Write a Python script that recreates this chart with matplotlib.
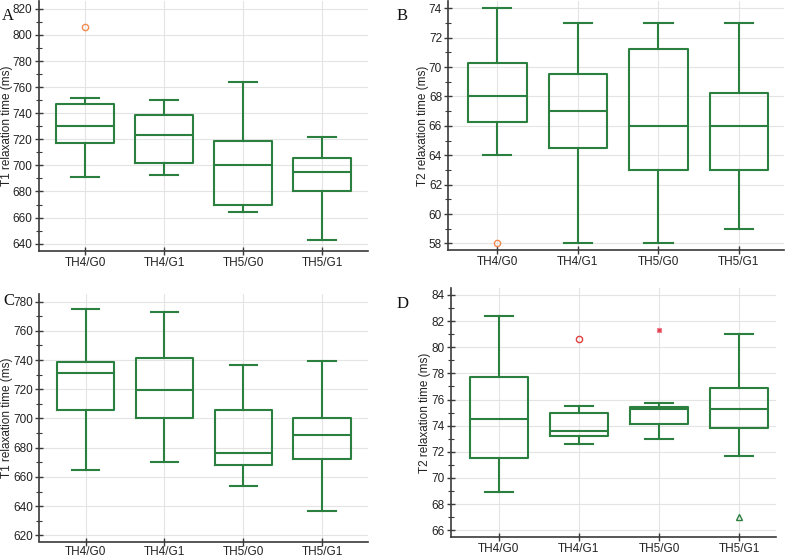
import matplotlib
matplotlib.use("Agg")
import matplotlib.pyplot as plt
from matplotlib.ticker import MultipleLocator

plt.rcParams['font.family'] = ['Liberation Sans', 'DejaVu Sans']

groups = ["TH4/G0", "TH4/G1", "TH5/G0", "TH5/G1"]

# each: whisker high, Q3, median, Q1, whisker low
a_whi = [752, 750, 764, 722]
a_q3 = [747, 739, 718.5, 706]
a_med = [730, 723, 700, 695]
a_q1 = [717, 702, 669.5, 680.5]
a_wlo = [691, 693, 664, 643]
a_out_x = [0]
a_out_y = [806]

b_whi = [74, 73, 73, 73]
b_q3 = [70.25, 69.5, 71.25, 68.25]
b_med = [68, 67, 66, 66]
b_q1 = [66.25, 64.5, 63, 63]
b_wlo = [64, 58, 58, 59]
b_out_x = [0]
b_out_y = [58]

c_whi = [775, 773, 736.5, 739.5]
c_q3 = [738.5, 741.5, 706, 700.5]
c_med = [731, 719.5, 676.5, 689]
c_q1 = [706, 700, 668, 672.5]
c_wlo = [665, 670, 654, 636.5]

d_whi = [82.4, 75.5, 75.7, 81.0]
d_q3 = [77.7, 75.0, 75.45, 76.9]
d_med = [74.5, 73.6, 75.3, 75.3]
d_q1 = [71.5, 73.25, 74.1, 73.8]
d_wlo = [68.9, 72.6, 73.0, 71.7]
d_out_circle = ([1], [80.6])
d_out_square = ([2], [81.3])
d_out_tri = ([3], [67.0])

GREEN = "#2b8040"
SPINE = "#3a3a3a"
GRID = "#e4e4e4"

fig = plt.figure(figsize=(7.88, 5.58), dpi=100)
W, H = 788, 558

def make_ax(l, r, b, t):
    return fig.add_axes([l / W, 1 - b / H, (r - l) / W, (b - t) / H])

def draw(ax, whi, q3, med, q1, wlo, ylim, major, minor, ylabel, xlim, labx, xpad=1.5):
    stats = []
    for i in range(len(groups)):
        stats.append(dict(med=med[i], q1=q1[i], q3=q3[i], whislo=wlo[i], whishi=whi[i], fliers=[]))
    pos = list(range(len(groups)))
    lp = dict(color=GREEN, linewidth=1.5)
    ax.bxp(stats, positions=pos, widths=0.73, showfliers=False,
           boxprops=lp, whiskerprops=lp, capprops=lp, medianprops=lp,
           capwidths=0.35, manage_ticks=False)
    ax.set_xticks(pos)
    ax.set_xticklabels(groups)
    ax.set_xlim(*xlim)
    ax.set_ylim(*ylim)
    ax.yaxis.set_major_locator(MultipleLocator(major))
    ax.yaxis.set_minor_locator(MultipleLocator(minor))
    ax.grid(True, which='major', color=GRID, linewidth=0.8)
    ax.set_axisbelow(True)
    for s in ['top', 'right']:
        ax.spines[s].set_visible(False)
    for s in ['left', 'bottom']:
        ax.spines[s].set_color(SPINE)
        ax.spines[s].set_linewidth(1.2)
    ax.tick_params(axis='y', which='major', direction='inout', length=6, width=1, color=SPINE,
                   labelsize=8.5, labelcolor='#222222', pad=1.5)
    ax.tick_params(axis='y', which='minor', direction='inout', length=4, width=0.8, color=SPINE)
    ax.tick_params(axis='x', which='major', direction='inout', length=6, width=1, color=SPINE,
                   labelsize=8.5, labelcolor='#222222', pad=xpad)
    ax.set_ylabel(ylabel, fontsize=8.5, color='#222222')
    ax.yaxis.set_label_coords(labx, 0.5)

axA = make_ax(38.7, 368, 250.7, 1)
draw(axA, a_whi, a_q3, a_med, a_q1, a_wlo, (634.6, 826), 20, 10,
     "T1 relaxation time (ms)", (-0.59, 3.58), -0.079)
axA.plot(a_out_x, a_out_y, 'o', mfc='none', mec='#f08a50', ms=4.5, mew=1)

axB = make_ax(448.3, 784, 250, 1)
draw(axB, b_whi, b_q3, b_med, b_q1, b_wlo, (57.55, 74.5), 2, 1,
     "T2 relaxation time (ms)", (-0.61, 3.56), -0.057)
axB.plot(b_out_x, b_out_y, 'o', mfc='none', mec='#f08a50', ms=4.5, mew=1)

axC = make_ax(39, 368, 541.5, 294)
draw(axC, c_whi, c_q3, c_med, c_q1, c_wlo, (615.8, 785.2), 20, 10,
     "T1 relaxation time (ms)", (-0.59, 3.58), -0.079, xpad=0.5)

axD = make_ax(450.7, 776, 536.7, 288.3)
draw(axD, d_whi, d_q3, d_med, d_q1, d_wlo, (65.51, 84.51), 2, 1,
     "T2 relaxation time (ms)", (-0.60, 3.46), -0.061)
axD.plot(*d_out_circle, 'o', mfc='none', mec='#e04040', ms=4.5, mew=1)
axD.plot(*d_out_square, 's', mfc='#e04050', mec='#f08090', ms=3.5, mew=0.8)
axD.plot(*d_out_tri, '^', mfc='none', mec=GREEN, ms=5, mew=1)

letter_kw = dict(fontsize=12, family=['Liberation Serif', 'DejaVu Serif'], color='#111111')
fig.text(1.5 / W, 1 - 19.5 / H, "A", **letter_kw)
fig.text(397 / W, 1 - 19.5 / H, "B", **letter_kw)
fig.text(3 / W, 1 - 305 / H, "C", **letter_kw)
fig.text(397 / W, 1 - 308 / H, "D", **letter_kw)

fig.savefig("out.png", dpi=100)
